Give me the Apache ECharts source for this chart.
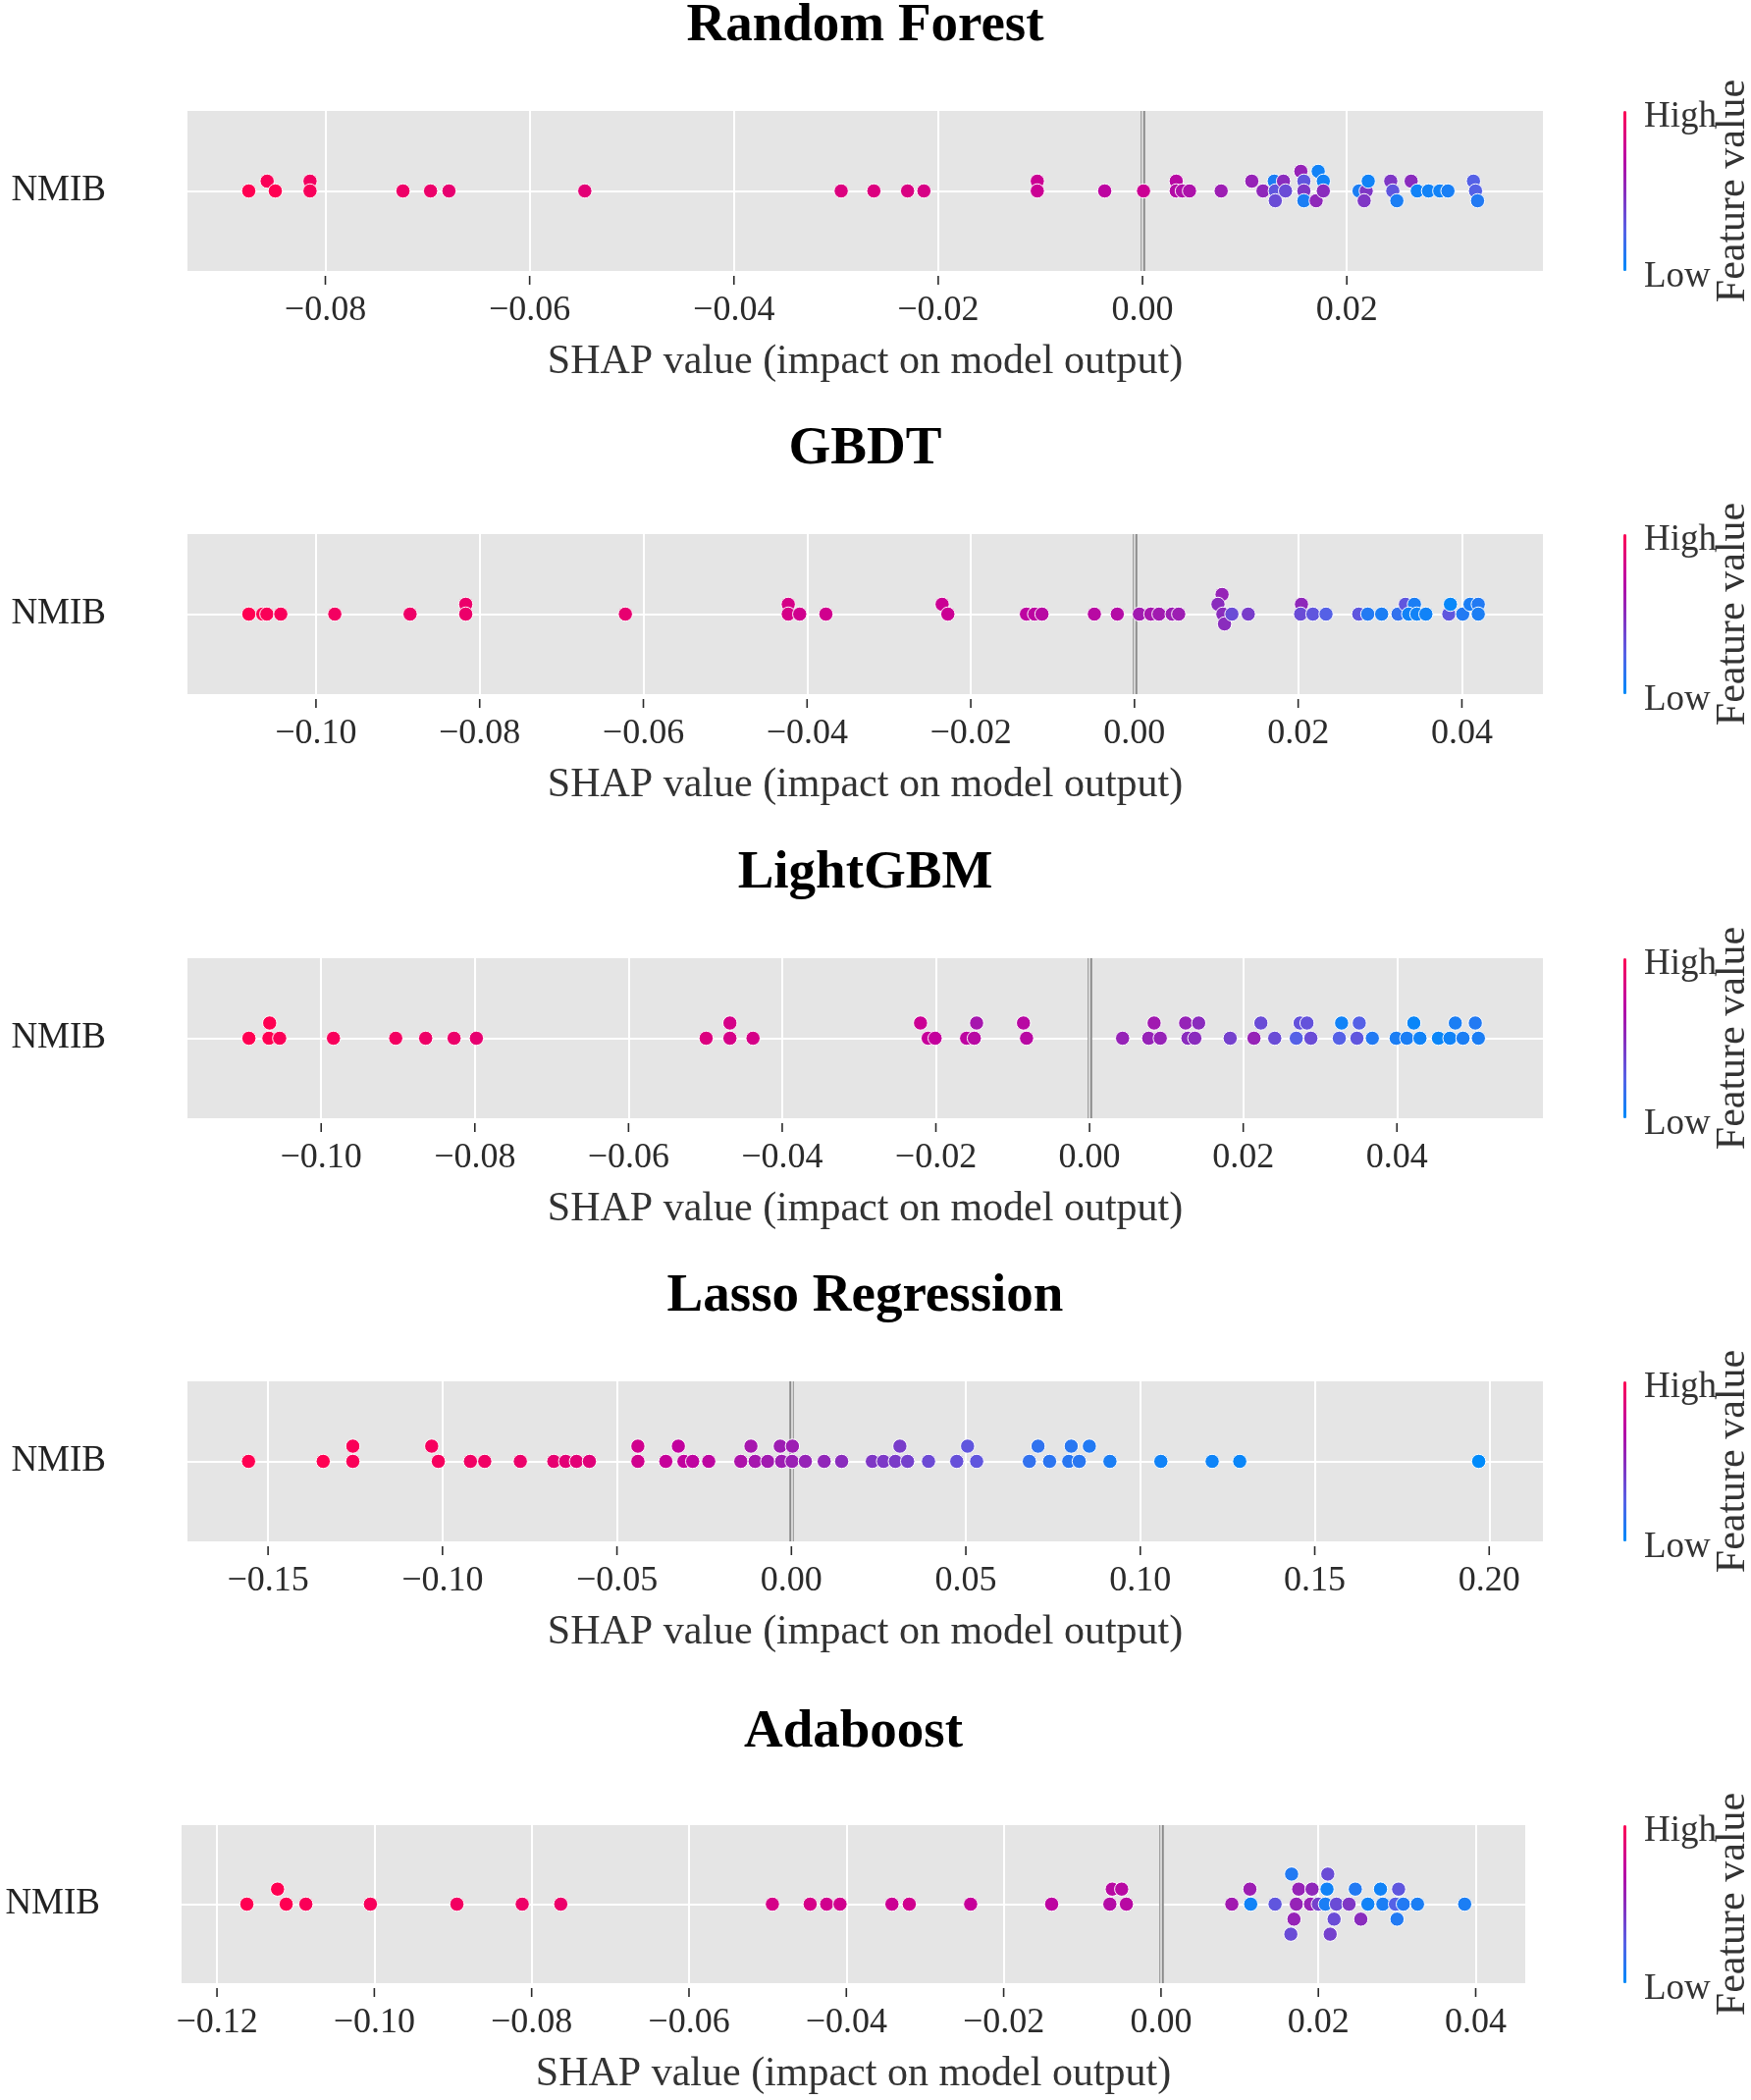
<!DOCTYPE html>
<html><head><meta charset="utf-8">
<script src="https://cdn.jsdelivr.net/npm/echarts@6/dist/echarts.min.js"></script>
<style>html,body{margin:0;padding:0;background:#fff}#c{width:1784px;height:2139px}</style>
</head><body><div id="c"></div>
<script>
// ---------------- DATA ----------------
const panelTitles = ['Random Forest', 'GBDT', 'LightGBM', 'Lasso Regression', 'Adaboost'];
const featureName = 'NMIB';
const xAxisName = 'SHAP value (impact on model output)';
const colorbarName = 'Feature value';
const colorbarHigh = 'High';
const colorbarLow = 'Low';

// Random Forest: SHAP value, beeswarm row, feature value (0 = low, 1 = high)
const rfX = [-0.0875,-0.0857,-0.0849,-0.0815,-0.0815,-0.0724,-0.0697,-0.0679,-0.0546,-0.0295,-0.0263,
  -0.0230,-0.0214,-0.0103,-0.0103,-0.0037,0.0001,0.0033,0.0033,0.0039,0.0046,0.0077,0.0107,0.0118,
  0.0129,0.0130,0.0130,0.0138,0.0140,0.0155,0.0158,0.0158,0.0158,0.0172,0.0170,0.0177,0.0177,
  0.0212,0.0219,0.0221,0.0217,0.0243,0.0245,0.0249,0.0263,0.0269,0.0280,0.0291,0.0299,0.0324,0.0326,0.0328];
const rfRow = [0,1,0,1,0,0,0,0,0,0,0,
  0,0,1,0,0,0,1,0,0,0,0,1,0,
  1,0,-1,1,0,2,1,0,-1,2,-1,1,0,
  0,0,1,-1,1,0,-1,1,0,0,0,0,1,0,-1];
const rfFeat = [1.0,0.98,1.0,0.95,0.97,0.93,0.92,0.9,0.88,0.85,0.85,
  0.84,0.83,0.78,0.78,0.72,0.78,0.7,0.68,0.66,0.65,0.58,0.55,0.52,
  0.08,0.3,0.35,0.5,0.35,0.55,0.3,0.45,0.08,0.05,0.52,0.05,0.5,
  0.08,0.45,0.05,0.45,0.45,0.3,0.08,0.5,0.05,0.05,0.05,0.07,0.25,0.25,0.1];

// GBDT
const gbdtX = [-0.1082,-0.1065,-0.1060,-0.1043,-0.0977,-0.0885,-0.0817,-0.0817,-0.0622,-0.0423,-0.0423,-0.0409,-0.0377,
  -0.0235,-0.0228,-0.0132,-0.0122,-0.0113,-0.0049,-0.0021,0.0006,0.0020,0.0030,0.0046,0.0054,
  0.0107,0.0102,0.0108,0.0110,0.0119,0.0139,0.0204,0.0203,0.0218,0.0234,0.0274,0.0285,0.0302,0.0322,
  0.0331,0.0342,0.0335,0.0345,0.0356,0.0384,0.0386,0.0401,0.0410,0.0420,0.0420];
const gbdtRow = [0,0,0,0,0,0,1,0,0,1,0,0,0,
  1,0,0,0,0,0,0,0,0,0,0,0,
  2,1,0,-1,0,0,1,0,0,0,0,0,0,0,
  1,1,0,0,0,0,1,0,1,1,0];
const gbdtFeat = [1.0,1.0,0.98,0.97,0.95,0.93,0.92,0.92,0.9,0.82,0.82,0.8,0.8,
  0.78,0.78,0.72,0.72,0.7,0.7,0.68,0.6,0.62,0.6,0.58,0.58,
  0.55,0.5,0.5,0.5,0.35,0.42,0.52,0.35,0.3,0.25,0.3,0.1,0.08,0.15,
  0.3,0.08,0.05,0.05,0.05,0.3,0.02,0.1,0.08,0.1,0.08];

// LightGBM
const lgbX = [-0.1094,-0.1067,-0.1068,-0.1054,-0.0984,-0.0903,-0.0864,-0.0827,-0.0798,-0.0499,-0.0468,-0.0468,-0.0438,
  -0.0220,-0.0210,-0.0201,-0.0147,-0.0160,-0.0150,-0.0086,-0.0082,0.0043,0.0084,0.0077,0.0092,
  0.0125,0.0142,0.0128,0.0137,0.0183,0.0214,0.0223,0.0241,0.0274,0.0283,0.0269,0.0288,
  0.0328,0.0351,0.0325,0.0348,0.0368,0.0399,0.0413,0.0422,0.0430,0.0454,0.0469,0.0476,0.0486,0.0502,0.0506];
const lgbRow = [0,1,0,0,0,0,0,0,0,0,1,0,0,
  1,0,0,1,0,0,1,0,0,1,0,0,
  1,1,0,0,0,0,1,0,1,1,0,0,
  1,1,0,0,0,0,0,1,0,0,0,1,0,1,0];
const lgbFeat = [1.0,1.0,1.0,0.98,0.97,0.95,0.93,0.92,0.9,0.85,0.82,0.82,0.82,
  0.78,0.76,0.75,0.62,0.72,0.7,0.7,0.7,0.55,0.6,0.55,0.55,
  0.55,0.5,0.5,0.5,0.4,0.55,0.35,0.35,0.32,0.32,0.25,0.35,
  0.05,0.25,0.25,0.3,0.1,0.08,0.08,0.03,0.05,0.03,0.05,0.08,0.08,0.1,0.08];

// Lasso Regression
const lassoX = [-0.1556,-0.1342,-0.1257,-0.1257,-0.1031,-0.1012,-0.0920,-0.0879,-0.0777,-0.0681,-0.0647,-0.0616,-0.0579,
  -0.0440,-0.0440,-0.0360,-0.0324,-0.0308,-0.0283,-0.0237,-0.0145,-0.0116,-0.0104,-0.0068,-0.0032,0.0003,-0.0028,0.0002,
  0.0040,0.0094,0.0144,0.0232,0.0264,0.0298,0.0311,0.0333,0.0393,0.0474,0.0505,0.0531,
  0.0682,0.0707,0.0740,0.0795,0.0802,0.0825,0.0854,0.0913,0.1059,0.1206,0.1285,0.1970];
const lassoRow = [0,0,1,0,1,0,0,0,0,0,0,0,0,
  1,0,0,1,0,0,0,0,1,0,0,1,1,0,0,
  0,0,0,0,0,0,1,0,0,0,1,0,
  0,1,0,0,1,0,1,0,0,0,0,0];
const lassoFeat = [1.0,1.0,0.98,0.98,0.96,0.96,0.94,0.94,0.92,0.9,0.88,0.88,0.87,
  0.8,0.8,0.76,0.74,0.74,0.73,0.72,0.65,0.62,0.62,0.6,0.58,0.58,0.58,0.57,
  0.55,0.53,0.5,0.45,0.44,0.43,0.42,0.4,0.36,0.33,0.3,0.3,
  0.15,0.14,0.13,0.12,0.12,0.12,0.1,0.08,0.05,0.04,0.03,0.0];

// Adaboost
const adaX = [-0.1162,-0.1123,-0.1112,-0.1087,-0.1005,-0.0895,-0.0812,-0.0763,-0.0494,-0.0446,-0.0425,-0.0408,
  -0.0342,-0.0320,-0.0242,-0.0139,-0.0062,-0.0050,-0.0065,-0.0044,
  0.0090,0.0113,0.0114,0.0145,0.0166,0.0165,0.0169,0.0172,0.0175,0.0190,0.0192,0.0200,
  0.0211,0.0212,0.0209,0.0215,0.0220,0.0223,0.0239,0.0247,0.0254,0.0263,0.0279,0.0282,
  0.0298,0.0302,0.0300,0.0308,0.0326,0.0386];
const adaRow = [0,1,0,0,0,0,0,0,0,0,0,0,
  0,0,0,0,1,1,0,0,
  0,1,0,0,2,-2,-1,0,1,0,1,0,
  1,2,0,-2,-1,0,0,1,-1,0,1,0,
  0,1,-1,0,0,0];
const adaFeat = [1.0,1.0,1.0,0.98,0.97,0.95,0.93,0.92,0.82,0.82,0.8,0.8,
  0.78,0.8,0.76,0.72,0.7,0.7,0.68,0.7,
  0.6,0.58,0.05,0.3,0.1,0.35,0.55,0.55,0.55,0.55,0.52,0.4,
  0.05,0.35,0.08,0.4,0.35,0.35,0.45,0.1,0.5,0.05,0.05,0.08,
  0.25,0.3,0.1,0.1,0.08,0.08];

// Axis ticks and limits
const rfTicks = [-0.08,-0.06,-0.04,-0.02,0.00,0.02];
const gbdtTicks = [-0.10,-0.08,-0.06,-0.04,-0.02,0.00,0.02,0.04];
const lgbTicks = [-0.10,-0.08,-0.06,-0.04,-0.02,0.00,0.02,0.04];
const lassoTicks = [-0.15,-0.10,-0.05,0.00,0.05,0.10,0.15,0.20];
const adaTicks = [-0.12,-0.10,-0.08,-0.06,-0.04,-0.02,0.00,0.02,0.04];
const rfLimits = [-0.0935, 0.0392];
const gbdtLimits = [-0.1157, 0.0499];
const lgbLimits = [-0.1174, 0.0590];
const lassoLimits = [-0.1731, 0.2154];
const adaLimits = [-0.1245, 0.0463];

// ---------------- LAYOUT / STYLE ----------------
const panels = [
  {x: rfX, row: rfRow, f: rfFeat, ticks: rfTicks, lim: rfLimits},
  {x: gbdtX, row: gbdtRow, f: gbdtFeat, ticks: gbdtTicks, lim: gbdtLimits},
  {x: lgbX, row: lgbRow, f: lgbFeat, ticks: lgbTicks, lim: lgbLimits},
  {x: lassoX, row: lassoRow, f: lassoFeat, ticks: lassoTicks, lim: lassoLimits},
  {x: adaX, row: adaRow, f: adaFeat, ticks: adaTicks, lim: adaLimits}
];
const boxes = [
  {left: 191, top: 113, width: 1381, height: 163, rowR: 8.15, titleY: 27},
  {left: 191, top: 544, width: 1381, height: 163, rowR: 8.15, titleY: 458},
  {left: 191, top: 976, width: 1381, height: 163, rowR: 5.26, titleY: 890},
  {left: 191, top: 1407, width: 1381, height: 163, rowR: 5.26, titleY: 1321},
  {left: 185, top: 1859, width: 1369, height: 161, rowR: 5.26, titleY: 1765}
];
const TICK_GAP = 5, TICK_LEN = 9;
const FONT = '"Liberation Serif","Times New Roman",serif';
const cmap = ['#008bfb', '#5561e6', '#8a2cbd', '#c4009d', '#ff0052'];
const fmt = v => { const s = Math.abs(v).toFixed(2); return (v < -1e-9 ? '\u2212' : '') + s; };

const grid = [], xAxis = [], yAxis = [], series = [], visualMap = [], graphic = [];
panels.forEach((p, i) => {
  const b = boxes[i];
  const R = b.rowR; // the feature row sits at y = R, the axis spans [0, 2R]
  grid.push({left: b.left, top: b.top, width: b.width, height: b.height, show: true,
    backgroundColor: '#e5e5e5', borderWidth: 0, outerBoundsMode: 'none', containLabel: false});
  xAxis.push({type: 'value', gridIndex: i, position: 'bottom', min: p.lim[0], max: p.lim[1],
    axisLine: {show: false, onZero: true},
    axisTick: {show: false, customValues: p.ticks},
    axisLabel: {customValues: p.ticks, formatter: fmt, margin: 23, fontFamily: FONT, fontSize: 36, color: '#2b2b2b'},
    splitLine: {show: true, lineStyle: {color: '#ffffff', width: 2}},
    name: xAxisName, nameLocation: 'middle', nameGap: 72,
    nameTextStyle: {fontFamily: FONT, fontSize: 42, color: '#333'}});
  yAxis.push({type: 'value', gridIndex: i, min: 0, max: 2 * R, interval: R,
    axisLine: {show: false, onZero: false}, axisTick: {show: false}, splitLine: {show: false},
    axisLabel: {formatter: v => Math.abs(v - R) < 1e-9 ? featureName : '', margin: 83,
      fontFamily: FONT, fontSize: 37, color: '#222'}});
  series.push({type: 'scatter', xAxisIndex: i, yAxisIndex: i, z: 3,
    data: p.x.map((x, k) => [x, p.row[k] + R, p.f[k]]),
    symbolSize: 14.5, itemStyle: {borderColor: '#ffffff', borderWidth: 1, opacity: 1},
    emphasis: {disabled: true}, silent: true,
    markLine: {silent: true, z: 1, symbol: 'none', label: {show: false}, animation: false,
      data: [
        {yAxis: R, lineStyle: {color: '#ffffff', width: 2, type: 'solid'}},
        {xAxis: 0, lineStyle: {color: '#8a8a8a', width: 4.5, type: 'solid'}},
        {xAxis: 0, lineStyle: {color: '#eeeeee', width: 1.5, type: 'solid'}}
      ]}});
  visualMap.push({type: 'continuous', seriesIndex: i, dimension: 2, min: 0, max: 1,
    inRange: {color: cmap}, show: true, calculable: false, hoverLink: false,
    left: 1654, top: b.top, itemWidth: 3, itemHeight: b.height, padding: 0, text: null,
    textStyle: {fontSize: 0}});
  const cx = b.left + b.width / 2, cy = b.top + b.height / 2;
  graphic.push({type: 'text', x: cx, y: b.titleY, style: {text: panelTitles[i], fill: '#000',
    font: 'bold 55px ' + FONT, textAlign: 'center', textVerticalAlign: 'middle', align: 'center', verticalAlign: 'middle'}});
  graphic.push({type: 'text', x: 1675, y: b.top + 6, style: {text: colorbarHigh, fill: '#333',
    font: '37px ' + FONT, textAlign: 'left', textVerticalAlign: 'middle', align: 'left', verticalAlign: 'middle'}});
  graphic.push({type: 'text', x: 1675, y: b.top + b.height + 6, style: {text: colorbarLow, fill: '#333',
    font: '37px ' + FONT, textAlign: 'left', textVerticalAlign: 'middle', align: 'left', verticalAlign: 'middle'}});
  graphic.push({type: 'text', x: 1766, y: cy, rotation: Math.PI / 2, style: {text: colorbarName, fill: '#333',
    font: '42px ' + FONT, textAlign: 'center', textVerticalAlign: 'middle', align: 'center', verticalAlign: 'middle'}});
});

const chart = echarts.init(document.getElementById('c'), null, {renderer: 'canvas'});
chart.setOption({backgroundColor: '#ffffff', animation: false, grid, xAxis, yAxis, series, visualMap, graphic});

// Outward tick marks below each panel, placed through each x axis's own scale
const tickGraphics = [];
panels.forEach((p, i) => {
  const b = boxes[i];
  const y0 = b.top + b.height + TICK_GAP;
  p.ticks.forEach(t => {
    const px = chart.convertToPixel({xAxisIndex: i}, t);
    tickGraphics.push({type: 'line', silent: true, z: 10,
      shape: {x1: px, y1: y0, x2: px, y2: y0 + TICK_LEN},
      style: {stroke: '#2a2a2a', lineWidth: 1.6}});
  });
});
chart.setOption({graphic: graphic.concat(tickGraphics)});
</script></body></html>
